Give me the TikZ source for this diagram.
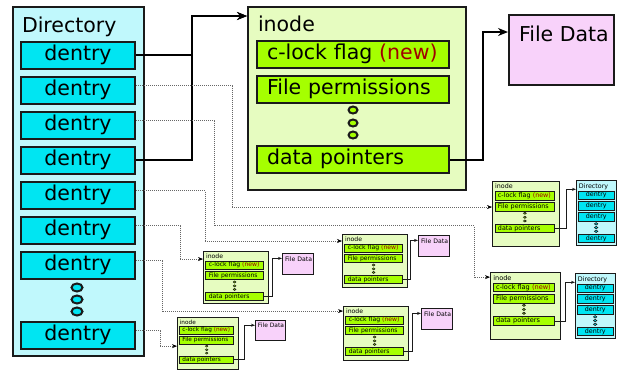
\documentclass[tikz,border=0pt]{standalone}
\usepackage{fontspec}
\setmainfont{DejaVu Sans}
\usetikzlibrary{arrows.meta,calc}
\definecolor{dirbg}{HTML}{C0F8FC}
\definecolor{dentryc}{HTML}{00E5F2}
\definecolor{inobg}{HTML}{E6FCC0}
\definecolor{fieldc}{HTML}{A5FF00}
\definecolor{fdbg}{HTML}{F8D2FA}
\definecolor{newred}{HTML}{A00000}
\definecolor{edgec}{HTML}{1A1A1A}
\newcommand\fsz{\fontsize{20.5}{24}\selectfont}
\tikzset{
  blk/.style={draw=edgec, anchor=north west, inner sep=0pt},
  txt/.style={anchor=base west, inner sep=0pt, font=\fsz},
  field/.style={blk, fill=fieldc, minimum width=192, minimum height=27,
    text width=172, align=left, text height=15.6pt, text depth=4.9pt, font=\fsz},
  dentrybox/.style={blk, fill=dentryc, minimum width=114, minimum height=27,
    text height=15.6pt, text depth=4.9pt, font=\fsz},
  bigarrow/.style={line width=2pt, draw=black, -{Stealth[length=10pt,width=8pt]}},
  dotconn/.style={line width=0.6pt, draw=black!60, dash pattern=on 0.8pt off 1.2pt, -{Stealth[length=5pt,width=4pt,color=black]}},
  smallconn/.style={line width=0.7pt, draw=edgec, -{Stealth[length=4pt,width=3pt]}},
}
% name, x, y, scale, height, in-y
\newcommand\inodeblk[6]{%
\begin{scope}[shift={(#2,#3)}, scale=#4, transform shape, line width=#4*2pt]
  \node[blk, fill=inobg, minimum width=218, minimum height=#5] (#1) at (0,0) {};
  \node[txt] (#1-t) at (10,25.7) {inode};
  \node[field] (#1-cl) at (9,34) {c-lock flag \textcolor{newred}{(new)}};
  \node[field] (#1-fp) at (9,69) {File permissions};
  \foreach \yy in {104,117,129} \draw[draw=edgec, fill=fieldc] (106,\yy) ellipse [x radius=4.5, y radius=3.5];
  \node[field] (#1-dp) at (9,139) {data pointers};
  \coordinate (#1-in) at (0,#6);
\end{scope}}
% name, x, y, scale, number of upper dentries
\newcommand\dirblk[5]{%
\begin{scope}[shift={(#2,#3)}, scale=#4, transform shape, line width=#4*2pt]
  \pgfmathsetmacro\lastTop{35+35*(#5+1)}
  \pgfmathsetmacro\dotC{35+35*#5+13.5}
  \node[blk, fill=dirbg, minimum width=131, minimum height=\lastTop+34] (#1) at (0,0) {};
  \node[txt] (#1-t) at (9,26) {Directory};
  \foreach \i in {1,...,#5} \node[dentrybox] (#1-d\i) at (8,{35+35*(\i-1)}) {dentry};
  \foreach \k in {-12,0,12} \draw[draw=edgec, fill=dentryc] (65,\dotC+\k) ellipse [x radius=5.5, y radius=4];
  \node[dentrybox] (#1-dl) at (8,\lastTop) {dentry};
  \coordinate (#1-in) at (0,30);
\end{scope}}
% name, x, y, scale
\newcommand\fdblk[4]{%
\begin{scope}[shift={(#2,#3)}, scale=#4, transform shape, line width=#4*2pt]
  \node[blk, fill=fdbg, minimum width=105, minimum height=70] (#1) at (0,0) {};
  \node[txt] (#1-t) at (10,27) {File Data};
  \coordinate (#1-in) at (0,18);
\end{scope}}

\begin{document}
\begin{tikzpicture}[x=1pt, y=-1pt]
\useasboundingbox[fill=white] (0,0) rectangle (619,373);
% main blocks
\dirblk{BD}{12}{6}{1}{7}
\inodeblk{I}{247}{6}{1}{183}{10}
\fdblk{FD}{508}{14}{1}
% small inodes
\inodeblk{A}{492}{181}{0.31}{210}{84}
\dirblk{DA}{576}{180}{0.31}{3}
\inodeblk{B}{490}{272}{0.32}{210}{16}
\dirblk{DB}{575}{273}{0.31}{3}
\inodeblk{C}{203}{251}{0.298}{175}{27}
\fdblk{FC}{282}{253}{0.3}
\inodeblk{D}{342}{234}{0.298}{178}{23.5}
\fdblk{FDD}{418}{235}{0.3}
\inodeblk{E}{343}{306}{0.298}{181}{17}
\fdblk{FE}{421}{308}{0.3}
\inodeblk{F}{177}{317}{0.28}{186}{104}
\fdblk{FF}{255}{320}{0.29}
% solid connectors to main inode
\draw[bigarrow] ([yshift=1pt]BD-d1.east) -- ++(56,0) |- (I-in);
\draw[bigarrow] ([yshift=1pt]BD-d4.east) -- ++(56,0) |- (I-in);
\draw[bigarrow] (I-dp.east) -| ($(I-dp.east)!0.57!(FD-in)$) |- (FD-in);
% dotted connectors
\draw[dotconn] ([yshift=5pt]BD-d2.east) -- ++(96,0) |- (A-in);
\draw[dotconn] ([yshift=5pt]BD-d3.east) -- ++(78,0) -- ++(0,105) -| ([xshift=-16pt]B-in) -- (B-in);
\draw[dotconn] ([yshift=5pt]BD-d5.east) -- ++(69,0) |- (D-in);
\draw[dotconn] ([yshift=5pt]BD-d6.east) -- ++(44,0) |- (C-in);
\draw[dotconn] ([yshift=5pt]BD-d7.east) -- ++(26,0) |- (E-in);
\draw[dotconn] ([yshift=5pt]BD-dl.east) -- ++(24,0) |- (F-in);
% small data-pointer connectors
\draw[smallconn] (A-dp.east) -| ($(A-dp.east)!0.55!(DA-in)$) |- (DA-in);
\draw[smallconn] (B-dp.east) -| ($(B-dp.east)!0.55!(DB-in)$) |- (DB-in);
\draw[smallconn] (C-dp.east) -| ($(C-dp.east)!0.5!(FC-in)$) |- (FC-in);
\draw[smallconn] (D-dp.east) -| ($(D-dp.east)!0.5!(FDD-in)$) |- (FDD-in);
\draw[smallconn] (E-dp.east) -| ($(E-dp.east)!0.5!(FE-in)$) |- (FE-in);
\draw[smallconn] (F-dp.east) -| ($(F-dp.east)!0.5!(FF-in)$) |- (FF-in);
\end{tikzpicture}
\end{document}
